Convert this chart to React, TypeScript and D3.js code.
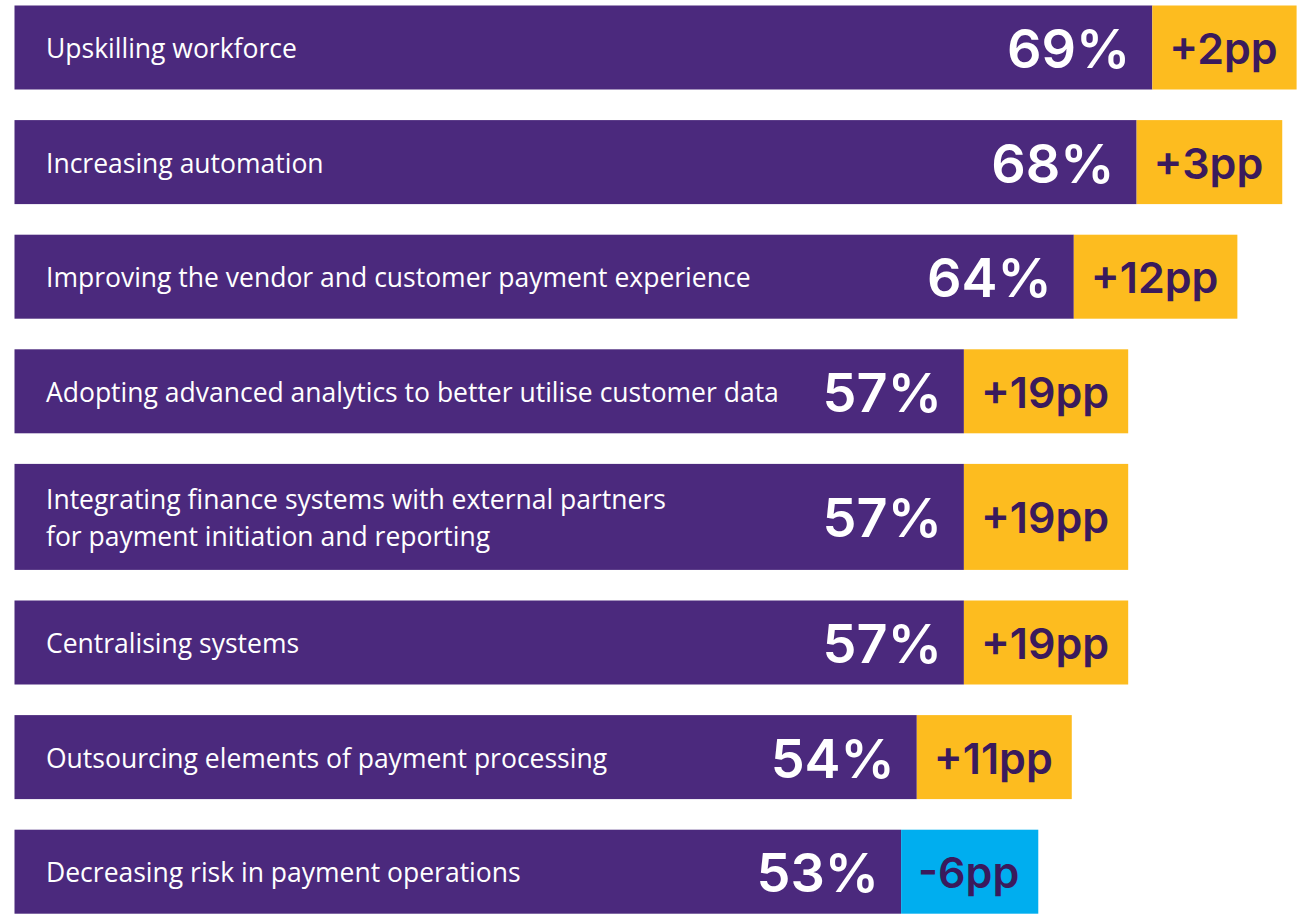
import React from "react";
import * as d3 from "d3";

const labels: string[][] = [
  ["Upskilling workforce"],
  ["Increasing automation"],
  ["Improving the vendor and customer payment experience"],
  ["Adopting advanced analytics to better utilise customer data"],
  ["Integrating finance systems with external partners", "for payment initiation and reporting"],
  ["Centralising systems"],
  ["Outsourcing elements of payment processing"],
  ["Decreasing risk in payment operations"],
];
const values: number[] = [69, 68, 64, 57, 57, 57, 54, 53];
const changes: number[] = [2, 3, 12, 19, 19, 19, 11, -6];

const W = 1315;
const H = 914;
const PURPLE = "#4b297d";
const YELLOW = "#fdbc1f";
const BLUE = "#00aeef";
const DARK = "#3a1a5c";
const LABEL_FONT = "'Open Sans', sans-serif";
const NUM_FONT = "Inter, sans-serif";

let ctx: CanvasRenderingContext2D | null = null;
function measure(text: string, font: string): number {
  if (!ctx) ctx = document.createElement("canvas").getContext("2d");
  if (!ctx) return text.length * 26;
  ctx.font = font;
  return ctx.measureText(text).width;
}

export default function App() {
  const left = 14.5;
  const single = 84;
  const double = 106;
  const gap = 30.6;
  const top = 5.5;
  const lineGap = 36.5;

  const heights = labels.map((l) => (l.length > 1 ? double : single));
  const tops = heights.map((_, i) => top + d3.sum(heights.slice(0, i)) + gap * i);

  const x = d3.scaleLinear().domain([50, 70]).range([854, 1168]);

  const fmtChange = (c: number) => (c > 0 ? `+${c}pp` : `${c}pp`);
  const chgFontSize = 43;

  return (
    <svg width={W} height={H} style={{ display: "block", position: "absolute", left: 0, top: 0 }}>
      <rect width={W} height={H} fill="#ffffff" />
      {values.map((v, i) => {
        const y0 = tops[i];
        const h = heights[i];
        const cy = y0 + h / 2;
        const xEnd = x(v);
        const chgText = fmtChange(changes[i]);
        const tw = measure(chgText, `600 ${chgFontSize}px Inter`);
        const boxW = tw + 36;
        const lines = labels[i];
        const firstY = cy + 1.5 - ((lines.length - 1) / 2) * lineGap;
        return (
          <g key={i}>
            <rect x={left} y={y0} width={xEnd - left} height={h} fill={PURPLE} />
            <rect x={xEnd} y={y0} width={boxW} height={h} fill={changes[i] < 0 ? BLUE : YELLOW} />
            <text
              x={left + 31.5}
              y={firstY}
              fill="#ffffff"
              fontFamily={LABEL_FONT}
              fontSize={26.5}
            >
              {lines.map((line, j) => (
                <tspan key={j} x={left + 31.5} y={firstY + j * lineGap} dy="0.35em">
                  {line}
                </tspan>
              ))}
            </text>
            <text
              x={xEnd - 22}
              y={cy + 1}
              dy="0.36em"
              textAnchor="end"
              fill="#ffffff"
              fontFamily={NUM_FONT}
              fontWeight={600}
              fontSize={54}
            >
              {`${v}%`}
            </text>
            <text
              x={xEnd + 17}
              y={cy + 1}
              dy="0.36em"
              fill={DARK}
              fontFamily={NUM_FONT}
              fontWeight={600}
              fontSize={chgFontSize}
            >
              {chgText}
            </text>
          </g>
        );
      })}
    </svg>
  );
}
